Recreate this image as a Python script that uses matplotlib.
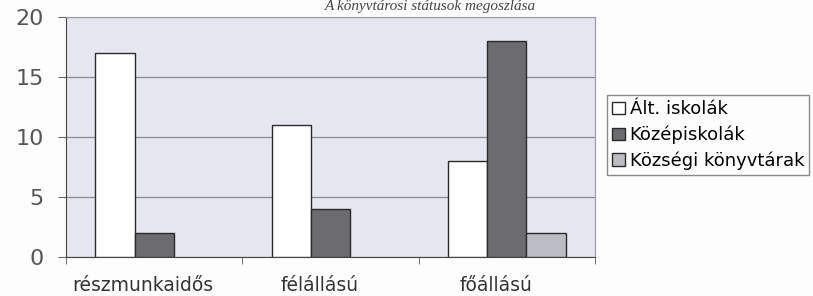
#!/usr/bin/env python3
# -*- coding: utf-8 -*-

import matplotlib
matplotlib.use('Agg')
import matplotlib.pyplot as plt
import matplotlib.transforms as mtransforms
import numpy as np

# data
categories      = ['részmunkaidős', 'félállású', 'főállású']
series_names    = ['Ált. iskolák', 'Középiskolák', 'Községi könyvtárak']
alt_iskolak     = [17, 11, 8]
kozepiskolak    = [2, 4, 18]
kozsegi_konyvt  = [0, 0, 2]
y_ticks         = [0, 5, 10, 15, 20]
title_text      = 'A könyvtárosi státusok megoszlása'

series_values   = [alt_iskolak, kozepiskolak, kozsegi_konyvt]
bar_colors      = ['#ffffff', '#6c6c6e', '#bcbcc4']

plt.rcParams['font.family'] = ['DejaVu Sans']

fig = plt.figure(figsize=(8.13, 2.96), dpi=100)
fig.patch.set_facecolor('#fdfdfd')
ax = fig.add_axes([66/813, 39/296, 529/813, 240/296])
ax.set_facecolor('#e6e6f0')

x = np.arange(len(categories))
bar_w = 0.222
for i in range(len(series_names)):
    # no outline for empty bars, as in the scan
    lw = [1.0 if v > 0 else 0.0 for v in series_values[i]]
    ax.bar(x + (i - 1) * bar_w, series_values[i], width=bar_w,
           color=bar_colors[i], edgecolor='#2a2a2a', linewidth=lw,
           label=series_names[i], zorder=3)

ax.set_xlim(-0.5, len(categories) - 0.5)
ax.set_ylim(0, 20)
ax.set_yticks(y_ticks)
ax.set_yticklabels([str(v) for v in y_ticks], fontsize=16, color='#555555')
ax.yaxis.grid(True, color='#8c8c90', linewidth=0.9, zorder=0)

ax.set_xticks(x)
ax.set_xticklabels(categories, fontsize=13.5, color='#333333')
ax.tick_params(axis='x', which='major', length=0, pad=14)
ax.set_xticks(np.arange(len(categories) + 1) - 0.5, minor=True)
ax.tick_params(axis='x', which='minor', length=5, color='#555555')
ax.tick_params(axis='y', length=6, color='#666666', pad=10)

# labels sit a little left of the groups in the scan
shift = mtransforms.ScaledTranslation(-11/100, 0, fig.dpi_scale_trans)
for lab in ax.get_xticklabels():
    lab.set_transform(lab.get_transform() + shift)

for s in ['top', 'right']:
    ax.spines[s].set_color('#9a9aa0')
for s in ['left', 'bottom']:
    ax.spines[s].set_color('#444444')

leg = fig.legend(loc='upper left', bbox_to_anchor=(607/813, 1 - 95/296),
                 fontsize=13, frameon=True, fancybox=False, edgecolor='#8a8a8a',
                 framealpha=1, facecolor='#fdfdfd', handlelength=0.7,
                 handleheight=0.7, handletextpad=0.25, labelspacing=0.4,
                 borderaxespad=0, borderpad=0.3)
for h in leg.legend_handles:
    h.set_linewidth(1.0)

# the title was cut off in the scan; kept small so it stays readable
fig.text(0.53, 0.999, title_text, ha='center', va='top', fontsize=11,
         family='Liberation Serif', style='italic', color='#444444')

fig.savefig('out.png', dpi=100, facecolor=fig.get_facecolor())
